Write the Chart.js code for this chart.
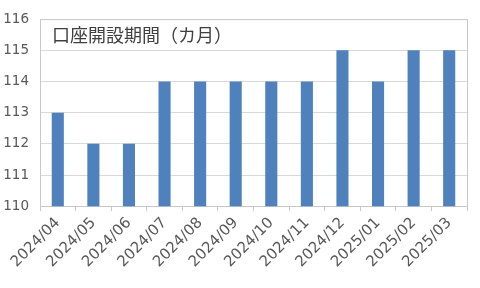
<!DOCTYPE html>
<html>
<head>
<meta charset="utf-8">
<script src="https://cdn.jsdelivr.net/npm/chart.js@4"></script>
<style>
  html, body { margin: 0; padding: 0; background: #fff; }
  #wrap { width: 480px; height: 288px; }
</style>
</head>
<body>
<div id="wrap"><canvas id="chart"></canvas></div>
<script>
// 月ラベル
const months = ["2024/04", "2024/05", "2024/06", "2024/07", "2024/08", "2024/09",
  "2024/10", "2024/11", "2024/12", "2025/01", "2025/02", "2025/03"];
// 口座開設期間（カ月）
const periods = [113, 112, 112, 114, 114, 114, 114, 114, 115, 114, 115, 115];
const chartTitle = "口座開設期間（カ月）";
const yMin = 110;
const yMax = 116;

const FONT = "'DejaVu Sans', sans-serif";
const TITLE_FONT = "'Noto Sans CJK JP', sans-serif";

// プロット枠とタイトルを描く
const frameAndTitle = {
  id: "frameAndTitle",
  afterDraw(chart) {
    const { ctx, chartArea: a } = chart;
    ctx.save();
    ctx.strokeStyle = "#c8c8c8";
    ctx.lineWidth = 1;
    ctx.beginPath();
    ctx.moveTo(a.left, a.top + 0.5);
    ctx.lineTo(a.right + 0.5, a.top + 0.5);
    ctx.lineTo(a.right + 0.5, a.bottom);
    ctx.stroke();
    ctx.fillStyle = "#404040";
    ctx.font = "18px " + TITLE_FONT;
    ctx.textBaseline = "middle";
    ctx.fillText(chartTitle, a.left + 12, a.top + 16);
    ctx.restore();
  },
};

new Chart(document.getElementById("chart"), {
  type: "bar",
  data: {
    labels: months,
    datasets: [{
      data: periods,
      backgroundColor: "#4f81bd",
      categoryPercentage: 1,
      barPercentage: 0.34,
    }],
  },
  options: {
    responsive: true,
    maintainAspectRatio: false,
    animation: false,
    layout: { padding: { left: 0, right: 13, top: 15, bottom: 14 } },
    plugins: { legend: { display: false }, tooltip: { enabled: false } },
    scales: {
      x: {
        grid: { drawOnChartArea: false, color: "#c8c8c8", tickLength: 5 },
        border: { color: "#c8c8c8" },
        ticks: {
          minRotation: 45, maxRotation: 45,
          color: "#595959",
          font: { family: FONT, size: 15 },
          padding: 3,
        },
      },
      y: {
        min: yMin, max: yMax,
        grid: { color: "#d9d9d9", drawTicks: false },
        border: { color: "#c8c8c8" },
        ticks: {
          stepSize: 1,
          color: "#595959",
          font: { family: FONT, size: 13.5 },
          padding: 11,
        },
        afterFit(scale) { scale.width = 40; },
      },
    },
  },
  plugins: [frameAndTitle],
});
</script>
</body>
</html>
